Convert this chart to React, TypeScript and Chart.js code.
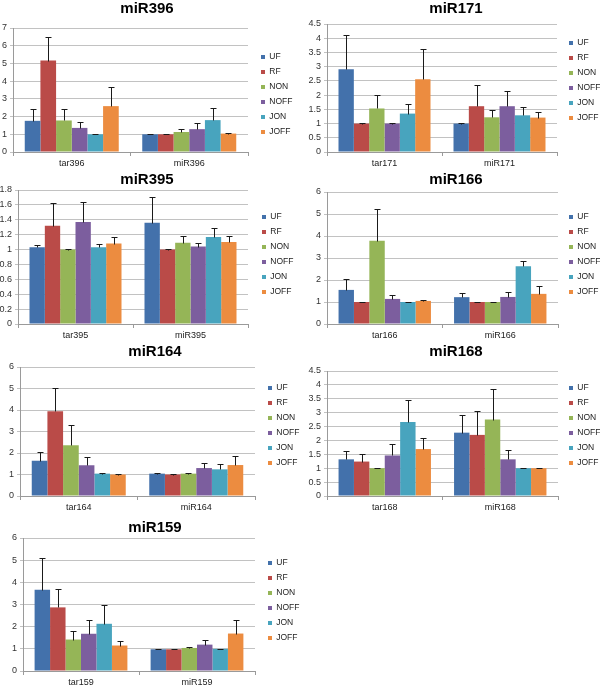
import React, { useEffect, useRef } from 'react';
import { Chart, registerables } from 'chart.js';

Chart.register(...registerables);
Chart.defaults.font.family = '"Liberation Sans", Arial, sans-serif';

// ---- data ----
const seriesNames = ['UF', 'RF', 'NON', 'NOFF', 'JON', 'JOFF'];
const seriesColors = ['#4371AB', '#BA4B48', '#95B557', '#7C5E9E', '#48A4BE', '#EC8C40'];

const miR396Categories = ['tar396', 'miR396'];
const miR396Tar = [1.76, 5.16, 1.78, 1.36, 1.0, 2.59];
const miR396TarErr = [0.64, 1.33, 0.62, 0.34, 0.01, 1.06];
const miR396Mir = [1.0, 1.0, 1.13, 1.29, 1.8, 1.04];
const miR396MirErr = [0.01, 0.01, 0.18, 0.32, 0.66, 0.06];

const miR171Categories = ['tar171', 'miR171'];
const miR171Tar = [2.91, 1.0, 1.53, 1.0, 1.35, 2.56];
const miR171TarErr = [1.2, 0.01, 0.47, 0.01, 0.33, 1.05];
const miR171Mir = [1.0, 1.61, 1.22, 1.61, 1.29, 1.21];
const miR171MirErr = [0.01, 0.74, 0.25, 0.53, 0.3, 0.18];

const miR395Categories = ['tar395', 'miR395'];
const miR395Tar = [1.03, 1.32, 1.0, 1.37, 1.03, 1.08];
const miR395TarErr = [0.03, 0.31, 0.005, 0.27, 0.04, 0.09];
const miR395Mir = [1.36, 1.0, 1.09, 1.04, 1.17, 1.1];
const miR395MirErr = [0.34, 0.005, 0.09, 0.05, 0.12, 0.08];

const miR166Categories = ['tar166', 'miR166'];
const miR166Tar = [1.55, 1.0, 3.78, 1.14, 1.0, 1.05];
const miR166TarErr = [0.49, 0.01, 1.46, 0.17, 0.01, 0.06];
const miR166Mir = [1.22, 1.0, 1.0, 1.23, 2.62, 1.37];
const miR166MirErr = [0.21, 0.01, 0.01, 0.23, 0.23, 0.34];

const miR164Categories = ['tar164', 'miR164'];
const miR164Tar = [1.64, 3.94, 2.36, 1.43, 1.04, 1.0];
const miR164TarErr = [0.41, 1.1, 0.96, 0.4, 0.05, 0.01];
const miR164Mir = [1.04, 1.0, 1.04, 1.3, 1.24, 1.44];
const miR164MirErr = [0.04, 0.01, 0.04, 0.22, 0.26, 0.42];

const miR168Categories = ['tar168', 'miR168'];
const miR168Tar = [1.32, 1.24, 1.0, 1.46, 2.66, 1.69];
const miR168TarErr = [0.3, 0.26, 0.01, 0.42, 0.81, 0.4];
const miR168Mir = [2.28, 2.2, 2.75, 1.32, 1.0, 1.0];
const miR168MirErr = [0.65, 0.86, 1.11, 0.34, 0.01, 0.01];

const miR159Categories = ['tar159', 'miR159'];
const miR159Tar = [3.67, 2.87, 1.42, 1.68, 2.13, 1.15];
const miR159TarErr = [1.45, 0.85, 0.39, 0.6, 0.83, 0.2];
const miR159Mir = [0.98, 0.98, 1.04, 1.19, 1.0, 1.69];
const miR159MirErr = [0.01, 0.01, 0.06, 0.22, 0.01, 0.59];

// ---- layout (page pixels) ----
type PanelCfg = {
  title: string;
  categories: string[];
  tar: number[]; tarErr: number[]; mir: number[]; mirErr: number[];
  yMax: number; yStep: number;
  left: number; top: number; width: number; height: number;
  yAxisW: number; gapW: number; xAxisH: number; titlePadTop: number; titlePadBottom: number;
};

const panels: PanelCfg[] = [
  { title: 'miR396', categories: miR396Categories, tar: miR396Tar, tarErr: miR396TarErr, mir: miR396Mir, mirErr: miR396MirErr,
    yMax: 7, yStep: 1, left: -2, top: -4, width: 298, height: 197, yAxisW: 15, gapW: 6.5, xAxisH: 41, titlePadTop: 4, titlePadBottom: 10 },
  { title: 'miR171', categories: miR171Categories, tar: miR171Tar, tarErr: miR171TarErr, mir: miR171Mir, mirErr: miR171MirErr,
    yMax: 4.5, yStep: 0.5, left: 308, top: -8, width: 296, height: 177, yAxisW: 19, gapW: 5.5, xAxisH: 17, titlePadTop: 8, titlePadBottom: 6 },
  { title: 'miR395', categories: miR395Categories, tar: miR395Tar, tarErr: miR395TarErr, mir: miR395Mir, mirErr: miR395MirErr,
    yMax: 1.8, yStep: 0.2, left: -3, top: 167, width: 300, height: 175, yAxisW: 21, gapW: 7.5, xAxisH: 18, titlePadTop: 4, titlePadBottom: 1 },
  { title: 'miR166', categories: miR166Categories, tar: miR166Tar, tarErr: miR166TarErr, mir: miR166Mir, mirErr: miR166MirErr,
    yMax: 6, yStep: 1, left: 308, top: 167, width: 296, height: 175, yAxisW: 19, gapW: 4.5, xAxisH: 18, titlePadTop: 4, titlePadBottom: 3 },
  { title: 'miR164', categories: miR164Categories, tar: miR164Tar, tarErr: miR164TarErr, mir: miR164Mir, mirErr: miR164MirErr,
    yMax: 6, yStep: 1, left: 7, top: 338, width: 296, height: 175, yAxisW: 13, gapW: 6.5, xAxisH: 17, titlePadTop: 5, titlePadBottom: 6 },
  { title: 'miR168', categories: miR168Categories, tar: miR168Tar, tarErr: miR168TarErr, mir: miR168Mir, mirErr: miR168MirErr,
    yMax: 4.5, yStep: 0.5, left: 308, top: 338, width: 296, height: 175, yAxisW: 19, gapW: 4.5, xAxisH: 17, titlePadTop: 5, titlePadBottom: 10 },
  { title: 'miR159', categories: miR159Categories, tar: miR159Tar, tarErr: miR159TarErr, mir: miR159Mir, mirErr: miR159MirErr,
    yMax: 6, yStep: 1, left: 7, top: 513, width: 296, height: 175, yAxisW: 16, gapW: 6.5, xAxisH: 17, titlePadTop: 6, titlePadBottom: 1 },
];

const errorBarPlugin = {
  id: 'errorBars',
  afterDatasetsDraw(chart: any) {
    const ctx = chart.ctx;
    const yScale = chart.scales.y;
    ctx.save();
    ctx.strokeStyle = '#1a1a1a';
    ctx.lineWidth = 1;
    chart.data.datasets.forEach((ds: any, i: number) => {
      const meta = chart.getDatasetMeta(i);
      meta.data.forEach((bar: any, j: number) => {
        const v = ds.data[j];
        const e = ds.errorPlus[j];
        const x = Math.round(bar.x) + 0.5;
        const y0 = Math.round(yScale.getPixelForValue(v)) + 0.5;
        const y1 = Math.round(yScale.getPixelForValue(v + e)) + 0.5;
        ctx.beginPath();
        ctx.moveTo(x, y0);
        ctx.lineTo(x, y1);
        ctx.moveTo(x - 3, y1);
        ctx.lineTo(x + 3, y1);
        ctx.stroke();
      });
    });
    ctx.restore();
  },
};

const fmtTick = (v: any) => String(Math.round(Number(v) * 100) / 100);

function Panel({ cfg }: { cfg: PanelCfg }) {
  const ref = useRef<HTMLCanvasElement>(null);
  useEffect(() => {
    const datasets = seriesNames.map((name, i) => ({
      label: name,
      data: [cfg.tar[i], cfg.mir[i]],
      errorPlus: [cfg.tarErr[i], cfg.mirErr[i]],
      backgroundColor: seriesColors[i],
      borderWidth: 0,
      barPercentage: 1.0,
      categoryPercentage: 0.8,
    }));
    const chart = new Chart(ref.current as HTMLCanvasElement, {
      type: 'bar',
      data: { labels: cfg.categories, datasets: datasets as any },
      plugins: [errorBarPlugin],
      options: {
        responsive: false,
        animation: false,
        devicePixelRatio: 1,
        layout: { padding: 0 },
        plugins: {
          title: {
            display: true,
            text: cfg.title,
            color: '#000',
            font: { size: 15, weight: 'bold' },
            padding: { top: cfg.titlePadTop, bottom: cfg.titlePadBottom },
          },
          legend: {
            display: true,
            position: 'right',
            maxWidth: 41.5,
            labels: {
              boxWidth: 4,
              boxHeight: 4,
              padding: 6.5,
              color: '#222',
              font: { size: 8.5 },
            },
          },
          tooltip: { enabled: false },
        },
        scales: {
          x: {
            grid: { display: true, drawOnChartArea: false, drawTicks: true, tickLength: 4, color: '#9a9a9a', offset: true },
            border: { display: true, color: '#9a9a9a' },
            ticks: { color: '#222', font: { size: 9 }, padding: 2, maxRotation: 0 },
            afterFit: (s: any) => { s.height = cfg.xAxisH; },
          },
          y: {
            min: 0,
            max: cfg.yMax,
            ticks: { stepSize: cfg.yStep, color: '#333', font: { size: 9 }, padding: 3, callback: fmtTick },
            grid: { color: '#c2c2c2', drawTicks: true, tickLength: 3 },
            border: { display: true, color: '#9a9a9a' },
            afterFit: (s: any) => { s.width = cfg.yAxisW; },
          },
          gap: {
            type: 'linear',
            position: 'right',
            display: true,
            grid: { display: false, drawTicks: false },
            border: { display: false },
            ticks: { display: false },
            afterFit: (s: any) => { s.width = cfg.gapW; },
          },
        },
      } as any,
    });
    return () => chart.destroy();
  }, []);
  return (
    <canvas
      ref={ref}
      width={cfg.width}
      height={cfg.height}
      style={{ position: 'absolute', left: cfg.left, top: cfg.top, width: cfg.width, height: cfg.height }}
    />
  );
}

export default function App() {
  return (
    <div style={{ position: 'fixed', left: 0, top: 0, width: 600, height: 686, overflow: 'hidden', background: '#fff' }}>
      {panels.map((p) => (
        <Panel key={p.title} cfg={p} />
      ))}
    </div>
  );
}
